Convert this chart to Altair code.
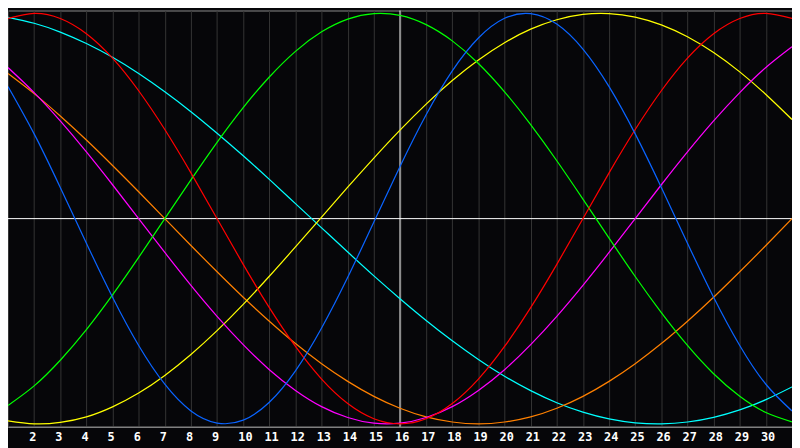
import altair as alt
import pandas as pd

days = list(range(1, 32))

# values at each day gridline (scale -1 .. 1)
physical = [0.644, 0.413, 0.152, -0.120, -0.383, -0.618, -0.807, -0.937, -0.996, -0.982,
            -0.895, -0.742, -0.533, -0.286, -0.016, 0.254, 0.506, 0.720, 0.880, 0.976,
            0.999, 0.948, 0.826, 0.643, 0.413, 0.152, -0.120, -0.383, -0.618, -0.807, -0.937]
emotional = [0.975, 1.000, 0.975, 0.901, 0.782, 0.623, 0.434, 0.223, 0.000, -0.223,
             -0.434, -0.623, -0.782, -0.901, -0.975, -1.000, -0.975, -0.901, -0.782, -0.623,
             -0.434, -0.223, 0.000, 0.223, 0.434, 0.623, 0.782, 0.901, 0.975, 1.000, 0.975]
intellectual = [-0.910, -0.815, -0.690, -0.541, -0.372, -0.189, 0.000, 0.189, 0.372, 0.541,
                0.690, 0.815, 0.910, 0.972, 0.999, 0.990, 0.945, 0.866, 0.756, 0.618,
                0.458, 0.282, 0.095, -0.095, -0.282, -0.458, -0.618, -0.756, -0.866, -0.945, -0.990]
intuitive = [0.736, 0.614, 0.476, 0.325, 0.165, 0.000, -0.165, -0.325, -0.476, -0.614,
             -0.736, -0.837, -0.916, -0.969, -0.997, -0.997, -0.969, -0.916, -0.837, -0.736,
             -0.614, -0.476, -0.325, -0.165, 0.000, 0.165, 0.325, 0.476, 0.614, 0.736, 0.837]
aesthetic = [-0.985, -1.000, -0.993, -0.966, -0.917, -0.850, -0.764, -0.662, -0.546, -0.418,
             -0.281, -0.138, 0.007, 0.153, 0.295, 0.431, 0.558, 0.673, 0.773, 0.857,
             0.923, 0.969, 0.995, 0.999, 0.982, 0.944, 0.886, 0.809, 0.715, 0.605, 0.483]
awareness = [0.707, 0.609, 0.500, 0.383, 0.259, 0.131, 0.000, -0.131, -0.259, -0.383,
             -0.500, -0.609, -0.707, -0.793, -0.866, -0.924, -0.966, -0.991, -1.000, -0.991,
             -0.966, -0.924, -0.866, -0.793, -0.707, -0.609, -0.500, -0.383, -0.259, -0.131, 0.000]
spiritual = [0.981, 0.952, 0.909, 0.853, 0.786, 0.707, 0.618, 0.521, 0.416, 0.306,
             0.191, 0.073, -0.045, -0.163, -0.279, -0.390, -0.496, -0.595, -0.686, -0.768,
             -0.838, -0.897, -0.943, -0.976, -0.995, -1.000, -0.991, -0.968, -0.932, -0.882, -0.820]

cycle_names = ["spiritual", "awareness", "aesthetic", "intuitive", "intellectual", "emotional", "physical"]
cycle_values = [spiritual, awareness, aesthetic, intuitive, intellectual, emotional, physical]
cycle_colors = ["#00ffff", "#ff8000", "#ffff00", "#ff00ff", "#00ff00", "#ff0000", "#0a64ff"]

today = [16]
baseline = [0]

rows = []
for name, vals in zip(cycle_names, cycle_values):
    for d, v in zip(days, vals):
        rows.append({"day": d, "value": v, "cycle": name})
df = pd.DataFrame(rows)

x_scale = alt.Scale(domain=[1, 31], nice=False, zero=False)
y_scale = alt.Scale(domain=[-1.014, 1.014], nice=False, zero=False)
x_axis = alt.Axis(
    values=days, title=None, grid=True, gridColor="#353535", gridWidth=1,
    ticks=False, domain=True, domainColor="#8c8c8c", domainWidth=1,
    labelColor="#ffffff", labelFont="DejaVu Sans Mono", labelFontWeight="bold",
    labelFontSize=12, labelAlign="left", labelOffset=-5.5, labelPadding=5,
    labelBaseline="top", labelOverlap=False, labelFlush=False,
    labelExpr="datum.value == 1 || datum.value == 31 ? '' : datum.label",
)
x_enc = alt.X("day:Q", scale=x_scale, axis=x_axis)
y_enc = alt.Y("value:Q", scale=y_scale, axis=None)

lines = alt.Chart(df).mark_line(strokeWidth=1.25, interpolate="natural").encode(
    x=x_enc,
    y=y_enc,
    color=alt.Color("cycle:N", scale=alt.Scale(domain=cycle_names, range=cycle_colors), legend=None),
    order=alt.Order("day:Q"),
)

vrule = alt.Chart(pd.DataFrame({"day": today})).mark_rule(color="#ffffff", strokeWidth=1).encode(x=x_enc)
hrule = alt.Chart(pd.DataFrame({"value": baseline})).mark_rule(color="#ffffff", strokeWidth=1).encode(y=y_enc)

chart = alt.layer(hrule, vrule, lines).properties(
    width=793, height=421,
    padding={"left": 0, "right": 0, "top": 0, "bottom": 20},
    autosize=alt.AutoSizeParams(type="none"),
    background="#060609",
).configure_view(
    fill="#060609", stroke="#8c8c8c", strokeWidth=1,
)

chart.save("out.html", embed_options={"renderer": "svg", "actions": False})
